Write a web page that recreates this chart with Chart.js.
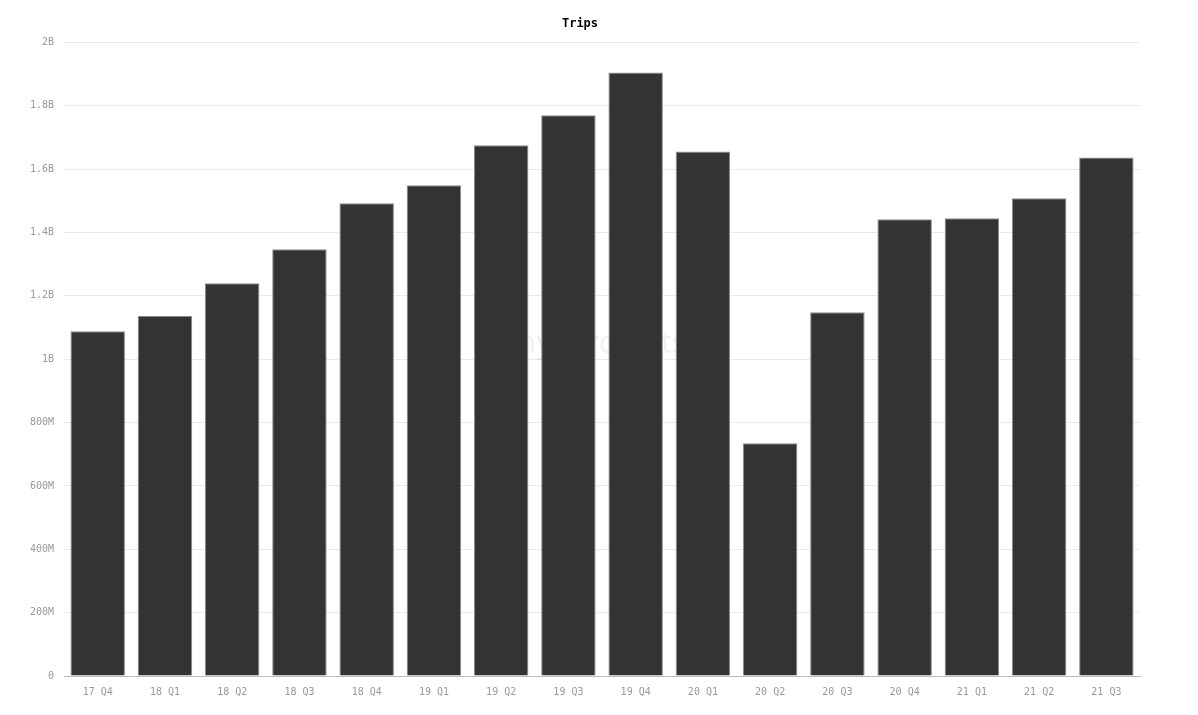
<!DOCTYPE html>
<html>
<head>
<meta charset="utf-8">
<script src="https://cdn.jsdelivr.net/npm/chart.js@4/dist/chart.umd.min.js"></script>
<style>
  html, body { margin: 0; padding: 0; background: #fff; }
  #wrap { width: 1198px; height: 715px; }
</style>
</head>
<body>
<div id="wrap"><canvas id="trips"></canvas></div>
<script>
var quarters = ['17 Q4', '18 Q1', '18 Q2', '18 Q3', '18 Q4', '19 Q1', '19 Q2', '19 Q3',
                '19 Q4', '20 Q1', '20 Q2', '20 Q3', '20 Q4', '21 Q1', '21 Q2', '21 Q3'];
var trips = [1.088e9, 1.136e9, 1.240e9, 1.347e9, 1.492e9, 1.549e9, 1.675e9, 1.770e9,
             1.905e9, 1.656e9, 0.735e9, 1.148e9, 1.442e9, 1.445e9, 1.508e9, 1.637e9];

function shortNum(v) {
    if (v === 0) return '0';
    if (v >= 1e9) return (Math.round(v / 1e8) / 10) + 'B';
    return Math.round(v / 1e6) + 'M';
}

// faint watermark behind the bars
var watermark = {
    id: 'watermark',
    beforeDatasetsDraw: function (chart) {
        var a = chart.chartArea;
        var c = chart.ctx;
        c.save();
        c.font = '30px "Noto Sans", sans-serif';
        c.fillStyle = 'rgba(0,0,0,0.06)';
        c.textAlign = 'center';
        c.textBaseline = 'middle';
        c.fillText('hypercharts', (a.left + a.right) / 2, (a.top + a.bottom) / 2 - 15);
        c.restore();
    }
};

var ctx = document.getElementById('trips').getContext('2d');
var myChart = new Chart(ctx, {
    type: 'bar',
    data: {
        labels: quarters,
        datasets: [{
            label: 'Trips',
            data: trips,
            backgroundColor: '#333333',
            borderColor: '#8a8a8a',
            borderWidth: 1,
            barPercentage: 0.9,
            categoryPercentage: 0.9
        }]
    },
    options: {
        responsive: true,
        maintainAspectRatio: false,
        animation: false,
        layout: { padding: { left: 20, right: 58, top: 0, bottom: 15 } },
        plugins: {
            legend: { display: false },
            tooltip: { enabled: false },
            title: {
                display: true,
                text: 'Trips',
                color: '#000',
                font: { family: '"DejaVu Sans Mono", monospace', size: 12, weight: 'bold' },
                padding: { top: 17, bottom: 11 }
            }
        },
        scales: {
            x: {
                grid: { display: false },
                border: { color: '#bbbbbb' },
                ticks: {
                    color: '#999',
                    padding: 2,
                    font: { family: '"DejaVu Sans Mono", monospace', size: 10 }
                }
            },
            y: {
                min: 0,
                max: 2e9,
                border: { display: false },
                grid: { color: '#ebebeb', drawTicks: false },
                ticks: {
                    stepSize: 2e8,
                    color: '#999',
                    padding: 10,
                    font: { family: '"DejaVu Sans Mono", monospace', size: 10 },
                    callback: function (v) { return shortNum(v); }
                }
            }
        }
    },
    plugins: [watermark]
});
</script>
</body>
</html>
